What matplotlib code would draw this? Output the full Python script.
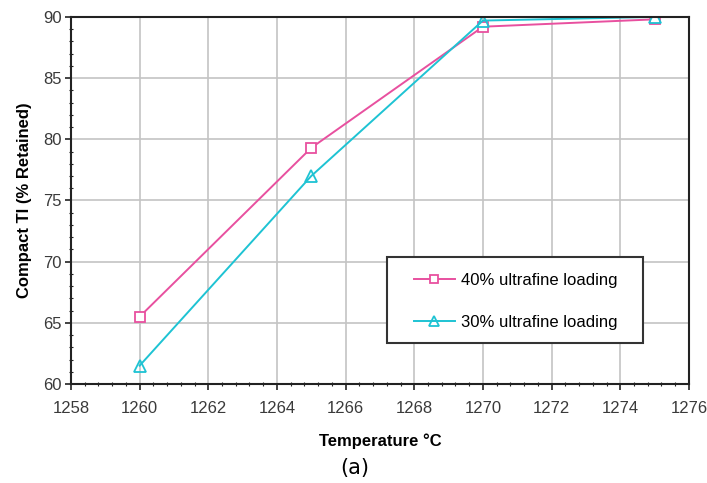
import numpy as np
import matplotlib
matplotlib.use("Agg")
from matplotlib import pyplot as plt
from matplotlib.ticker import MultipleLocator
from matplotlib.patches import Rectangle

plt.rcParams['font.family'] = ['Liberation Sans', 'DejaVu Sans']

# data
temps = [1260, 1265, 1270, 1275]
ti_40 = [65.5, 79.3, 89.2, 89.8]
ti_30 = [61.5, 77.0, 89.7, 90.0]
labels = ["40% ultrafine loading", "30% ultrafine loading"]

pink = "#e8509f"
cyan = "#1ec3d3"

fig = plt.figure(figsize=(7.07, 4.83), dpi=100)
ax = fig.add_axes([0.1004, 0.205, 0.874, 0.760])

ax.plot(temps, ti_40, color=pink, lw=1.4, marker='s', ms=7,
        mfc='white', mec=pink, mew=1.3, label=labels[0])
ax.plot(temps, ti_30, color=cyan, lw=1.4, marker='^', ms=9,
        mfc='none', mec=cyan, mew=1.3, label=labels[1])

ax.set_xlim(1258, 1276)
ax.set_ylim(60, 90)
ax.xaxis.set_major_locator(MultipleLocator(2))
ax.xaxis.set_minor_locator(MultipleLocator(0.4))
ax.yaxis.set_major_locator(MultipleLocator(5))
ax.yaxis.set_minor_locator(MultipleLocator(1))
ax.grid(True, which='major', color='#c4c4c4', lw=1.2)
ax.set_axisbelow(True)
for s in ax.spines.values():
    s.set_linewidth(1.5)
    s.set_color('#222222')
ax.tick_params(which='major', direction='out', length=4.5, width=1.2,
               labelsize=12, colors='#222222', labelcolor='#3a3a3a')
ax.tick_params(axis='x', which='major', pad=7.5)
ax.tick_params(axis='y', which='major', pad=2)
ax.tick_params(which='minor', direction='inout', length=3, width=0.8,
               colors='#222222')

ax.set_xlabel("Temperature °C", fontsize=12, fontweight='bold', labelpad=12.5)
ax.set_ylabel("Compact TI (% Retained)", fontsize=12, fontweight='bold', labelpad=8)

# legend box, drawn as a separate frame
ax.add_patch(Rectangle((0.511, 0.112), 0.415, 0.234, transform=ax.transAxes,
                       facecolor='white', edgecolor='#333333', lw=1.5, zorder=4))
leg = ax.legend(loc='upper left', bbox_to_anchor=(0.555, 0.302),
                fontsize=12, frameon=False, borderpad=0, borderaxespad=0,
                labelspacing=1.63, handlelength=2.45, handletextpad=0.35,
                markerscale=0.85)
leg.set_zorder(5)

fig.text(0.502, 0.031, "(a)", ha='center', va='center', fontsize=15,
         family=['DejaVu Sans'])

fig.savefig("out.png", dpi=100)
